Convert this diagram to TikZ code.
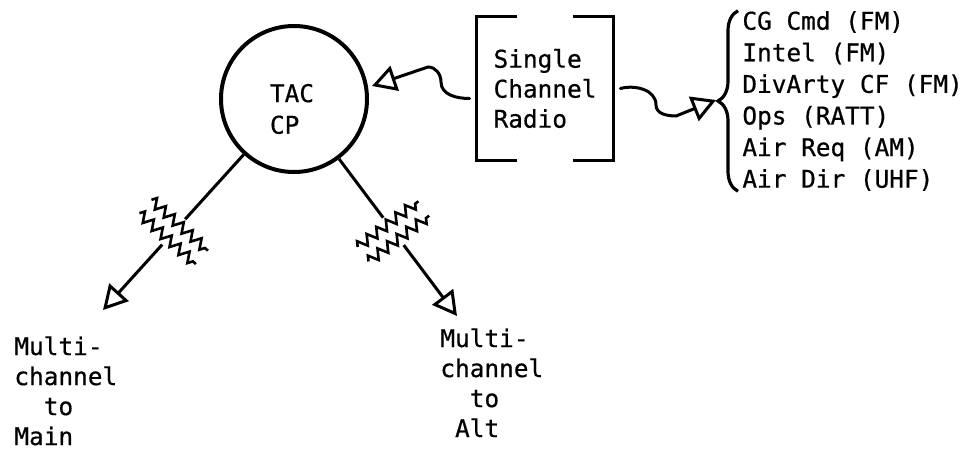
\documentclass[tikz,border=0pt]{standalone}
\usepackage{fontspec}
\setmainfont{DejaVu Sans Mono}[FakeBold=0.6]
\usetikzlibrary{positioning,arrows.meta,calc,decorations.pathmorphing,decorations.pathreplacing}

\newcommand\netfont{\fontsize{12.2pt}{15.8pt}\selectfont}
\newcommand\lblfont{\fontsize{12.2pt}{15pt}\selectfont}

\begin{document}
\begin{tikzpicture}[
    x=0.5pt, y=-0.5pt,
    every node/.style={font=\netfont, inner sep=0pt},
    cpost/.style   ={circle, draw, line width=2pt, minimum size=73pt},
    radiobox/.style={align=left, font=\lblfont, minimum width=68pt, minimum height=71.5pt},
    bracket/.style ={line width=1.6pt},
    lbl/.style     ={align=left},
    mclbl/.style   ={lbl, font=\lblfont, anchor=north west},
    link/.style    ={line width=1.5pt, -{Triangle[open, length=12pt, width=13pt]}},
    wave/.style    ={link, line cap=round},
    zz/.style      ={line width=1.3pt, decorate,
                     decoration={zigzag, segment length=6pt, amplitude=2.5pt}},
    jam/.pic={
      % gap in the link, two jamming squiggles across it
      \fill[white] (-7,-17) rectangle (7,17);
      \draw[zz] (-38,-9) -- (38,-9);
      \draw[zz] (-38,9) -- (38,9);
    }
  ]
    \useasboundingbox (0,0) rectangle (969,449);

    % --- command post ---
    \node[cpost] (tac) at (294,99) {};
    \node[lbl] (taclbl) at (292,109) {TAC\\CP};

    % --- single channel radio ---
    \node[radiobox] (radio) at (545,88.5) {Single\\Channel\\Radio};
    \draw[bracket] ($(radio.north west)+(40,0)$) -- (radio.north west)
      -- (radio.south west) -- ($(radio.south west)+(40,0)$);
    \draw[bracket] ($(radio.north east)+(-40,0)$) -- (radio.north east)
      -- (radio.south east) -- ($(radio.south east)+(-40,0)$);

    % --- nets ---
    \node[lbl, anchor=west] (chans) at (742,101)
      {CG Cmd (FM)\\Intel (FM)\\DivArty CF (FM)\\Ops (RATT)\\Air Req (AM)\\Air Dir (UHF)};
    \draw[bracket, decorate, decoration={brace, amplitude=10pt}]
      ($(chans.south west)+(-4,0)$) -- ($(chans.north west)+(-4,0)$);

    % --- multichannel labels ---
    \node[mclbl] (mainlbl) at (14,336) {Multi-\\channel\\\ \ to\\Main};
    \node[mclbl] (altlbl) at (440,328) {Multi-\\channel\\\ \ to\\\ Alt};

    \coordinate (mainend) at (103,310);
    \coordinate (altend) at (457,316);
    \coordinate (tacin) at (372,86);
    \coordinate (listin) at (716,100);

    % radio links
    \draw[wave] ($(radio.west)+(-7,10)$) to[out=180,in=-90] (441,82)
      to[out=90,in=0] (428,67) -- (tacin);
    \draw[wave] ($(radio.east)+(7,0)$) to[out=15,in=90] (656,105)
      to[out=-90,in=180] (676,116) -- (listin);

    % multichannel links (jammed)
    \draw[link] (tac) -- (mainend);
    \draw[link] (tac) -- (altend);
    \pic[rotate=-42] at ($(tac)!0.63!(mainend)$) {jam};
    \pic[rotate=37] at ($(tac)!0.61!(altend)$) {jam};
  \end{tikzpicture}
\end{document}
